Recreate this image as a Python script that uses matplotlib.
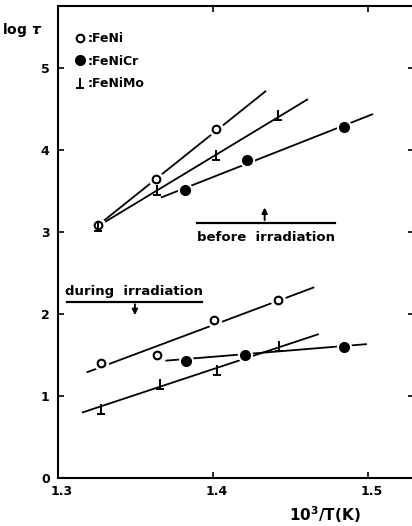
import matplotlib
matplotlib.use("Agg")
import matplotlib.pyplot as plt
import matplotlib.transforms as mtrans
from matplotlib.path import Path
import numpy as np

plt.rcParams['font.family'] = ['DejaVu Sans']
plt.rcParams['font.weight'] = 'bold'

# before irradiation, points
feni_x_b = [1.326, 1.363, 1.402]
feni_y_b = [3.08, 3.64, 4.25]
fenicr_x_b = [1.382, 1.422, 1.485]
fenicr_y_b = [3.51, 3.87, 4.27]
fenimo_x_b = [1.326, 1.364, 1.402, 1.442]
fenimo_y_b = [3.07, 3.51, 3.93, 4.42]

# during irradiation, points
feni_x_d = [1.328, 1.364, 1.401, 1.442]
feni_y_d = [1.40, 1.50, 1.92, 2.17]
fenicr_x_d = [1.383, 1.421, 1.485]
fenicr_y_d = [1.43, 1.50, 1.60]
fenimo_x_d = [1.328, 1.366, 1.403, 1.443]
fenimo_y_d = [0.84, 1.14, 1.31, 1.61]

# drawn fit lines (end points)
fit_feni_b = ([1.326, 1.434], [3.08, 4.71])
fit_fenimo_b = ([1.326, 1.461], [3.07, 4.61])
fit_fenicr_b = ([1.367, 1.503], [3.42, 4.43])
fit_feni_d = ([1.319, 1.465], [1.29, 2.32])
fit_fenimo_d = ([1.316, 1.468], [0.80, 1.75])
fit_fenicr_d = ([1.370, 1.499], [1.43, 1.63])

xticks = [1.3, 1.4, 1.5]
yticks = [0, 1, 2, 3, 4, 5]

perp = Path([(0, 0.5), (0, -0.5), (-0.45, -0.5), (0.45, -0.5)],
            [Path.MOVETO, Path.LINETO, Path.MOVETO, Path.LINETO])

fig = plt.figure(figsize=(4.12, 5.26), dpi=100)
ax = fig.add_axes([58/412, 1-478/526, 356/412, 472/526])

for fx, fy in [fit_feni_b, fit_fenimo_b, fit_fenicr_b,
               fit_feni_d, fit_fenimo_d, fit_fenicr_d]:
    ax.plot(fx, fy, color='black', lw=1.3, zorder=2)

# white halo so the lines break around the marks
allx = feni_x_b + fenicr_x_b + feni_x_d + fenicr_x_d
ally = feni_y_b + fenicr_y_b + feni_y_d + fenicr_y_d
ax.plot(allx, ally, 'o', ms=10, color='white', zorder=3)

h1, = ax.plot(feni_x_b + feni_x_d, feni_y_b + feni_y_d, 'o', ms=5.5,
              mfc='white', mec='black', mew=1.5, zorder=4, linestyle='none')
h2, = ax.plot(fenicr_x_b + fenicr_x_d, fenicr_y_b + fenicr_y_d, 'o', ms=7,
              color='black', zorder=4, linestyle='none')
h3, = ax.plot(fenimo_x_b + fenimo_x_d, fenimo_y_b + fenimo_y_d,
              marker=perp, ms=7, mec='black', mew=1.4, zorder=4,
              linestyle='none')

ax.legend([h1, h2, h3], [':FeNi', ':FeNiCr', ':FeNiMo'], loc='upper left',
          frameon=False, handlelength=0.8, handletextpad=0.2,
          labelspacing=0.75, fontsize=9, borderaxespad=0.0,
          bbox_to_anchor=(0.035, 0.955))

# annotations
ax.plot([1.390, 1.479], [3.107, 3.107], color='black', lw=1.6)
ax.annotate('', xy=(1.4335, 3.33), xytext=(1.4335, 3.107),
            arrowprops=dict(arrowstyle='-|>', color='black', lw=1.4,
                            mutation_scale=8))
ax.text(1.4345, 2.93, 'before  irradiation', ha='center', va='center',
        fontsize=9.5, fontweight='bold')

ax.plot([1.306, 1.393], [2.15, 2.15], color='black', lw=1.6)
ax.annotate('', xy=(1.3497, 1.95), xytext=(1.3497, 2.15),
            arrowprops=dict(arrowstyle='-|>', color='black', lw=1.4,
                            mutation_scale=8))
ax.text(1.349, 2.27, 'during  irradiation', ha='center', va='center',
        fontsize=9.5, fontweight='bold')

ax.set_xlim(1.3, 1.53)
ax.set_ylim(0, 5.75)
ax.set_xticks(xticks)
ax.set_xticklabels([str(v) for v in xticks])
ax.set_yticks(yticks)
ax.tick_params(direction='in', length=4, width=1.2, labelsize=9,
               top=True, right=True)
ax.tick_params(axis='x', pad=5)
ax.tick_params(axis='y', pad=6)
shift = mtrans.ScaledTranslation(4/100, 0, fig.dpi_scale_trans)
for lab in ax.get_xticklabels():
    lab.set_transform(lab.get_transform() + shift)
for s in ax.spines.values():
    s.set_linewidth(1.5)

fig.text(22/412, 1-30/526, r'log $\tau$', ha='center', va='center',
         fontsize=10, fontweight='bold')
fig.text(325/412, 1-515/526, r'10$^3$/T(K)', ha='center', va='center',
         fontsize=11, fontweight='bold')

fig.savefig('out.png', dpi=100)
